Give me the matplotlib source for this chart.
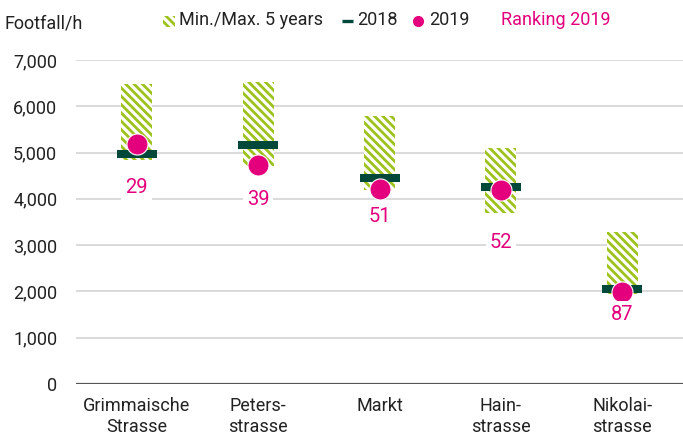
import matplotlib
matplotlib.use("Agg")
import matplotlib.pyplot as plt
from matplotlib.patches import Rectangle
from matplotlib.lines import Line2D
from matplotlib.ticker import FuncFormatter

categories = ["Grimmaische\nStrasse", "Peters-\nstrasse", "Markt", "Hain-\nstrasse", "Nikolai-\nstrasse"]
min5 = [4840, 4700, 4190, 3690, 1950]
max5 = [6480, 6530, 5790, 5090, 3280]
v2018 = [4970, 5160, 4460, 4260, 2050]
v2019 = [5185, 4725, 4220, 4190, 1990]
ranking = [29, 39, 51, 52, 87]
yticks = [0, 1000, 2000, 3000, 4000, 5000, 6000, 7000]

FONT = ['Roboto', 'DejaVu Sans']
plt.rcParams['font.family'] = FONT
plt.rcParams['hatch.linewidth'] = 2.0

GREEN = '#9dc21b'
DARK = '#00493a'
PINK = '#e4007c'
TXT = '#222222'
HATCH = '\\\\\\\\'

W, H = 683, 436
fig = plt.figure(figsize=(W / 100, H / 100), dpi=100)

def fx(px):
    return px / W

def fy(py):
    return 1 - py / H

ax = fig.add_axes([fx(76), fy(384), fx(683) - fx(76), fy(60) - fy(384)])
x = list(range(len(categories)))

ax.bar(x, [b - a for a, b in zip(min5, max5)], bottom=min5, width=0.255,
       facecolor='white', edgecolor=GREEN, linewidth=0, hatch=HATCH, zorder=2)
ax.plot(x, v2018, ls='none', marker='_', ms=29, mew=5.8, color=DARK, zorder=3)
ax.scatter(x, v2019, s=230, color=PINK, edgecolor='white', linewidth=0.8, zorder=4)

label_offsets = [31, 24.5, 20, 37.5, 16.5]
for xi, yv, r, off in zip(x, v2019, ranking, label_offsets):
    ax.annotate(str(r), (xi, yv), xytext=(0, -off), textcoords='offset points',
                ha='center', va='center', fontsize=14.5, color=PINK, zorder=5,
                bbox=dict(boxstyle='square,pad=0.2', fc='white', ec='none'))

ax.set_xlim(-0.5, 4.5)
ax.set_ylim(0, 7000)
ax.set_yticks(yticks)
ax.yaxis.set_major_formatter(FuncFormatter(lambda v, p: f"{int(v):,}"))
ax.set_xticks(x)
ax.set_xticklabels(categories, linespacing=1.25)
ax.tick_params(axis='both', length=0, labelsize=13, labelcolor=TXT)
ax.tick_params(axis='y', pad=13.5)
ax.tick_params(axis='x', pad=9)
for s in ax.spines.values():
    s.set_visible(False)
ax.grid(axis='y', color='#d4d4d4', linewidth=1.2, zorder=0)
ax.set_axisbelow(True)
ax.axhline(0, color='#555555', linewidth=1.6, zorder=1)

# title / legend
fig.text(fx(4), fy(23), "Footfall/h", fontsize=13, color=TXT, va='center', ha='left')
fig.patches.append(Rectangle((fx(163), fy(27)), fx(12), fy(16) - fy(27), transform=fig.transFigure,
                             facecolor='white', edgecolor=GREEN, linewidth=0, hatch=HATCH))
fig.text(fx(179), fy(20), "Min./Max. 5 years", fontsize=13, color=TXT, va='center', ha='left')
fig.lines.append(Line2D([fx(342), fx(353)], [fy(21), fy(21)], transform=fig.transFigure,
                        color=DARK, linewidth=2.4, solid_capstyle='butt'))
fig.text(fx(357), fy(20), "2018", fontsize=13, color=TXT, va='center', ha='left')
fig.lines.append(Line2D([fx(418)], [fy(21)], transform=fig.transFigure, ls='none',
                        marker='o', ms=7, color=PINK))
fig.text(fx(429), fy(20), "2019", fontsize=13, color=TXT, va='center', ha='left')
fig.text(fx(501), fy(20), "Ranking 2019", fontsize=13, color=PINK, va='center', ha='left')

fig.savefig("out.png", dpi=100)
